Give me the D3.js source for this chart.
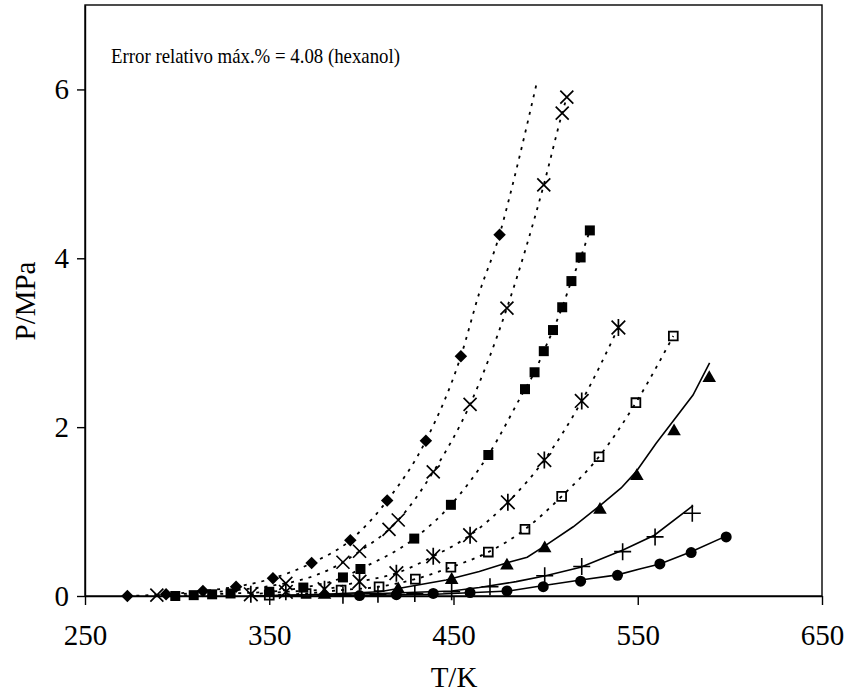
<!DOCTYPE html>
<html>
<head>
<meta charset="utf-8">
<script src="https://cdn.jsdelivr.net/npm/d3@7"></script>
<style>
  body { margin: 0; background: #fff; }
  svg { display: block; }
  text { font-family: "Liberation Serif", "Times New Roman", serif; fill: #000; }
</style>
</head>
<body>
<div id="chart"></div>
<script>
// axis ticks
const xTicks = [250, 350, 450, 550, 650];
const yTicks = [0, 2, 4, 6];

const diamondPts = [[273,0.00],[294,0.02],[314,0.06],[332,0.11],[352,0.21],[373,0.39],[394,0.66],[414,1.13],[435,1.84],[454,2.84],[475,4.28]];
const crossPts = [[289,0.01],[359,0.15],[390,0.40],[399,0.53],[415,0.79],[420,0.90],[439,1.47],[459,2.27],[479,3.41],[499,4.87],[509,5.72],[511.5,5.91]];
const squarePts = [[299,0.00],[309,0.01],[319,0.02],[329,0.03],[350,0.05],[368.5,0.10],[390,0.22],[399.5,0.32],[428.7,0.68],[448.6,1.08],[468.9,1.67],[488.8,2.45],[494,2.65],[499,2.90],[504,3.15],[509,3.42],[514,3.73],[519,4.01],[524,4.33]];
const starPts = [[340,0.02],[359,0.05],[380,0.08],[399,0.17],[419,0.27],[439,0.47],[459,0.72],[479.5,1.11],[499.3,1.61],[519.6,2.31],[539.5,3.18]];
const openSqPts = [[350,0.01],[370,0.03],[389,0.07],[409.6,0.11],[429.3,0.20],[448.6,0.34],[468.9,0.52],[488.8,0.79],[508.7,1.18],[529,1.65],[549,2.29],[569.3,3.08]];
const trianglePts = [[380,0.015],[420,0.08],[449,0.19],[479,0.36],[499.5,0.565],[529.5,1.02],[549.5,1.42],[569.7,1.95],[588.8,2.58]];
const plusPts = [[390,0.01],[409,0.02],[429,0.03],[449,0.05],[469.8,0.11],[499.5,0.24],[519.6,0.35],[541.8,0.525],[559.4,0.70],[579.6,0.98]];
const circlePts = [[399,0.005],[419,0.015],[439,0.03],[459,0.04],[479,0.06],[498.7,0.11],[519,0.175],[539,0.245],[562,0.38],[579,0.515],[598,0.70]];

// model curves
const diamondLine = [[273,0.00],[294,0.02],[314,0.06],[332,0.11],[352,0.21],[373,0.39],[394,0.66],[414,1.13],[435,1.84],[454,2.84],[464,3.59],[475,4.28],[480,4.69],[486,5.22],[495,6.06]];
const crossLine = crossPts;
const squareLine = squarePts;
const starLine = starPts;
const openSqLine = openSqPts;
const triangleLine = [[340,0.00],[380,0.02],[410,0.05],[446,0.19],[464,0.29],[480,0.40],[490,0.46],[500,0.60],[515,0.82],[530,1.08],[541,1.28],[549,1.47],[560,1.81],[580,2.38],[589,2.76]];
const plusLine = [[340,0.00],[410,0.03],[449,0.06],[464,0.10],[484,0.17],[500,0.24],[519,0.34],[542,0.545],[559,0.72],[580,1.07]];
const circleLine = [[380,0.00],[440,0.02],[480,0.06],[499,0.125],[519,0.19],[539,0.25],[551,0.32],[562,0.38],[579,0.525],[600,0.73]];

const note = "Error relativo máx.% = 4.08 (hexanol)";

const width = 846, height = 697;
const plotL = 85, plotR = 822, plotT = 5, plotB = 596;

const svg = d3.select("#chart").append("svg")
    .attr("width", width)
    .attr("height", height);

const xScale = d3.scaleLinear().domain([250, 650]).range([plotL, plotR]);
const yScale = d3.scaleLinear().domain([0, 7]).range([plotB, plotT]);

// plot frame
svg.append("rect")
    .attr("x", plotL).attr("y", plotT)
    .attr("width", plotR - plotL).attr("height", plotB - plotT)
    .attr("fill", "none").attr("stroke", "#000").attr("stroke-width", 1.4);

// axes
const xAxis = d3.axisBottom(xScale).tickValues(xTicks).tickFormat(d3.format("d"))
    .tickSize(9).tickSizeOuter(0).tickPadding(19);
const yAxis = d3.axisLeft(yScale).tickValues(yTicks).tickFormat(d3.format("d"))
    .tickSize(8).tickSizeOuter(0).tickPadding(8);

const gx = svg.append("g").attr("transform", "translate(0," + plotB + ")").call(xAxis);
const gy = svg.append("g").attr("transform", "translate(" + plotL + ",0)").call(yAxis);
[gx, gy].forEach(g => {
    g.selectAll("path, line").attr("stroke", "#000").attr("stroke-width", 1.4);
    g.selectAll("text").attr("font-size", 29).attr("font-family", "Liberation Serif, Times New Roman, serif").attr("fill", "#000");
});

// axis titles
svg.append("text")
    .attr("x", 454).attr("y", 687)
    .attr("text-anchor", "middle").attr("font-size", 29)
    .text("T/K");
svg.append("text")
    .attr("transform", "translate(35,301) rotate(-90)")
    .attr("text-anchor", "middle").attr("font-size", 29)
    .text("P/MPa");

svg.append("text")
    .attr("x", 111).attr("y", 63)
    .attr("font-size", 21)
    .attr("textLength", 289)
    .attr("lengthAdjust", "spacingAndGlyphs")
    .text(note);

// lines
const line = d3.line().x(d => xScale(d[0])).y(d => yScale(d[1]));
const smooth = d3.line().x(d => xScale(d[0])).y(d => yScale(d[1])).curve(d3.curveMonotoneX);

const dotted = [diamondLine, crossLine, squareLine, starLine, openSqLine];
const solid = [triangleLine, plusLine, circleLine];

dotted.forEach(pts => {
    svg.append("path").datum(pts)
        .attr("d", smooth)
        .attr("fill", "none").attr("stroke", "#000")
        .attr("stroke-width", 1.8).attr("stroke-dasharray", "3,6");
});
solid.forEach(pts => {
    svg.append("path").datum(pts)
        .attr("d", line)
        .attr("fill", "none").attr("stroke", "#000")
        .attr("stroke-width", 1.6);
});

// marker shapes
const symCross = { draw(ctx, r) { ctx.moveTo(-r, -r); ctx.lineTo(r, r); ctx.moveTo(r, -r); ctx.lineTo(-r, r); } };
const symStar = { draw(ctx, r) { ctx.moveTo(-r, -r); ctx.lineTo(r, r); ctx.moveTo(r, -r); ctx.lineTo(-r, r); ctx.moveTo(0, -r * 1.25); ctx.lineTo(0, r * 1.25); } };
const symPlus = { draw(ctx, r) { ctx.moveTo(-r, 0); ctx.lineTo(r, 0); ctx.moveTo(0, -r); ctx.lineTo(0, r); } };

const markers = [
    { pts: diamondPts, type: d3.symbolSquare, size: 78, rot: 45, fill: "#000", stroke: "none" },
    { pts: crossPts, type: symCross, size: 6.5, fill: "none", stroke: "#000", sw: 1.7 },
    { pts: squarePts, type: d3.symbolSquare, size: 100, fill: "#000", stroke: "none" },
    { pts: starPts, type: symStar, size: 6.8, fill: "none", stroke: "#000", sw: 1.7 },
    { pts: openSqPts, type: d3.symbolSquare, size: 78, fill: "none", stroke: "#000", sw: 1.8 },
    { pts: trianglePts, type: d3.symbolTriangle, size: 80, fill: "#000", stroke: "none" },
    { pts: plusPts, type: symPlus, size: 8.5, fill: "none", stroke: "#000", sw: 1.6 },
    { pts: circlePts, type: d3.symbolCircle, size: 95, fill: "#000", stroke: "none" }
];

markers.forEach(m => {
    svg.append("g").selectAll("path")
        .data(m.pts)
        .enter()
        .append("path")
        .attr("d", d3.symbol().type(m.type).size(m.size))
        .attr("transform", d => "translate(" + xScale(d[0]) + "," + yScale(d[1]) + ")" + (m.rot ? " rotate(" + m.rot + ")" : ""))
        .attr("fill", m.fill)
        .attr("stroke", m.stroke)
        .attr("stroke-width", m.sw || 0);
});
</script>
</body>
</html>
